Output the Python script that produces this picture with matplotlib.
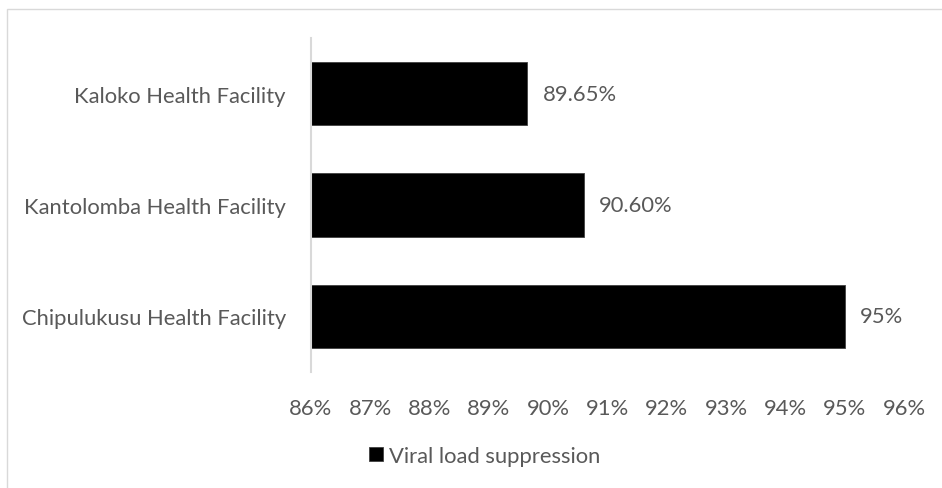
import matplotlib.pyplot as plt
from matplotlib.patches import Rectangle
from matplotlib.ticker import FuncFormatter

# Viral load suppression by facility (%)
facilities = ["Chipulukusu Health Facility", "Kantolomba Health Facility", "Kaloko Health Facility"]
suppression = [95.0, 90.60, 89.65]
value_labels = ["95%", "90.60%", "89.65%"]
x_ticks = [86, 87, 88, 89, 90, 91, 92, 93, 94, 95, 96]

TEXT = "#595959"
GRID = "#d9d9d9"
FS = 15.8

plt.rcParams["font.family"] = ["Lato", "DejaVu Sans"]

W, H = 942, 489
fig = plt.figure(figsize=(W / 100, H / 100), dpi=100)
ax = fig.add_axes([311 / W, 1 - 373 / H, (904 - 311) / W, (373 - 39) / H])

# chart frame (only top and left edges fall inside the canvas)
fig.patches.append(Rectangle((7 / W, -0.5), 2.0, 1.5 - 9.5 / H, transform=fig.transFigure,
                             fill=False, edgecolor=GRID, linewidth=1.0))

y = range(len(facilities))
bars = ax.barh(y, suppression, height=0.57, left=0, color="black", edgecolor="#404040", linewidth=0.6,
               label="Viral load suppression")

for yi, v, lab in zip(y, suppression, value_labels):
    ax.annotate(lab, xy=(v, yi), xytext=(11, 0), textcoords="offset points",
                va="center", ha="left", fontsize=FS, color=TEXT)

ax.set_xlim(86, 96)
ax.set_ylim(-0.5, 2.5)
ax.set_xticks(x_ticks)
ax.xaxis.set_major_formatter(FuncFormatter(lambda v, _: f"{v:.0f}%"))
ax.set_yticks(list(y))
ax.set_yticklabels(facilities)
ax.tick_params(axis="y", length=0, pad=18, labelsize=FS, labelcolor=TEXT)
ax.tick_params(axis="x", length=0, pad=19, labelsize=FS, labelcolor=TEXT)

for side in ["top", "right", "bottom"]:
    ax.spines[side].set_visible(False)
ax.spines["left"].set_color(GRID)
ax.spines["left"].set_linewidth(1.5)

fig.legend(handles=[bars], labels=["Viral load suppression"], loc="center",
           bbox_to_anchor=(485 / W, 1 - 457 / H), frameon=False, fontsize=FS,
           labelcolor=TEXT, handlelength=0.62, handleheight=0.62, handletextpad=0.3)

fig.savefig("out.png", dpi=100, facecolor="white")
